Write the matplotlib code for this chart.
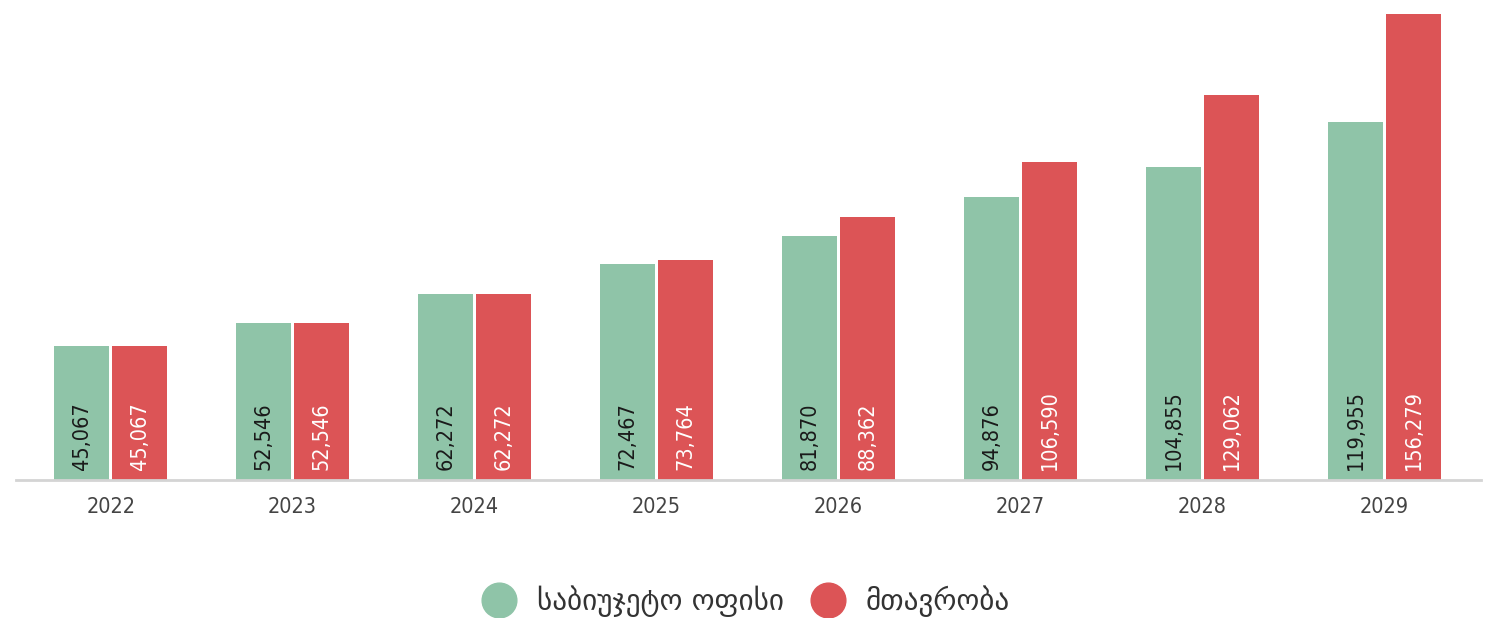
import numpy as np
import matplotlib
matplotlib.use('Agg')
from matplotlib import pyplot as plt
from matplotlib.lines import Line2D

# data
years = ['2022', '2023', '2024', '2025', '2026', '2027', '2028', '2029']
budget_office = [45067, 52546, 62272, 72467, 81870, 94876, 104855, 119955]
government = [45067, 52546, 62272, 73764, 88362, 106590, 129062, 156279]
series_names = ['საბიუჯეტო ოფისი', 'მთავრობა']

green = '#8fc4a8'
red = '#dc5456'

plt.rcParams['font.family'] = ['DejaVu Sans']

fig = plt.figure(figsize=(14.89, 6.18), dpi=100)
ax = fig.add_axes([16 / 1489, 138 / 618, 1465 / 1489, 480 / 618])

x = np.arange(len(years))
w = 0.302
off = 0.159
b1 = ax.bar(x - off, budget_office, w, color=green)
b2 = ax.bar(x + off, government, w, color=red)

for bars, vals, col in [(b1, budget_office, '#1a1a1a'), (b2, government, 'white')]:
    for b, v in zip(bars, vals):
        ax.annotate('{:,}'.format(v), (b.get_x() + b.get_width() / 2, 0),
                    xytext=(0, 7), textcoords='offset points', rotation=90,
                    ha='center', va='bottom', fontsize=15.5, color=col,
                    fontstretch='condensed')

ax.set_xlim(-0.52, 7.53)
ax.set_ylim(0, max(government) * 480 / 466)
ax.set_xticks(x)
ax.set_xticklabels(years, fontsize=15.5, color='#444444', fontstretch='condensed')
ax.tick_params(axis='x', length=0, pad=12)
ax.set_yticks([])
for s in ['top', 'left', 'right']:
    ax.spines[s].set_visible(False)
ax.spines['bottom'].set_color('#d4d4d4')
ax.spines['bottom'].set_linewidth(2)

handles = [Line2D([], [], marker='o', linestyle='', markersize=25, color=green),
           Line2D([], [], marker='o', linestyle='', markersize=25, color=red)]
fig.legend(handles, series_names, loc='center', bbox_to_anchor=(0.497, 17 / 618),
           ncol=2, frameon=False, fontsize=21, handletextpad=0.3,
           columnspacing=0.5, labelcolor='#333333')

fig.savefig('out.png', dpi=100)
